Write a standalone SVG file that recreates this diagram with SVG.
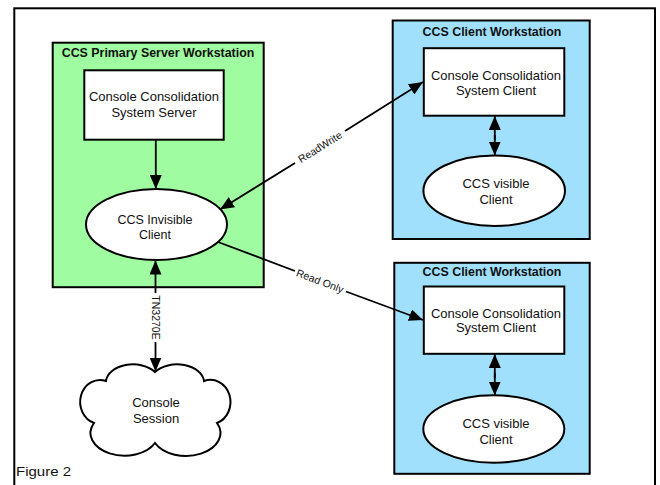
<svg xmlns="http://www.w3.org/2000/svg" width="660" height="485" viewBox="0 0 660 485">
<defs>
<style>
text{font-family:"Liberation Sans",Arial,sans-serif;fill:#111}
.t{font-size:12.4px;font-weight:bold;text-anchor:middle}
.b{font-size:13px;text-anchor:middle}
.s{font-size:12.5px}
.l{font-size:10.5px;text-anchor:middle}
.shape{stroke:#000;stroke-width:2}
.conn{stroke:#000;stroke-width:1.8;fill:none}
.arr{marker-end:url(#ah)}
</style>
<marker id="ah" markerUnits="userSpaceOnUse" markerWidth="14" markerHeight="12" refX="14" refY="6" orient="auto">
<path d="M0,0 L14,6 L0,12 Z" fill="#000"/>
</marker>
</defs>
<rect id="frame" x="14.3" y="8.3" width="640.7" height="490" fill="#fff" stroke="#000" stroke-width="2"/>

<g id="server-ws">
<rect class="shape" x="52.7" y="42.7" width="211" height="244.5" fill="#a0fca0"/>
<text class="t" x="158" y="57">CCS Primary Server Workstation</text>
</g>
<g id="ccs-server">
<rect class="shape" x="84.3" y="70.3" width="139.4" height="69.4" fill="#fff"/>
<text class="b" x="154" y="101">Console Consolidation</text>
<text class="b" x="154" y="117">System Server</text>
</g>
<g id="invisible-client">
<ellipse class="shape" cx="156.5" cy="224.5" rx="70.5" ry="35.5" fill="#fff"/>
<text class="b s" x="155" y="223.5">CCS Invisible</text>
<text class="b s" x="155" y="238.5">Client</text>
</g>

<g id="client-ws-1">
<rect class="shape" x="392.7" y="20.5" width="197" height="218.5" fill="#a0e0fc"/>
<text class="t" x="492" y="36">CCS Client Workstation</text>
</g>
<g id="ccs-client-1">
<rect class="shape" x="423.8" y="48.2" width="140.5" height="67.5" fill="#fff"/>
<text class="b" x="496" y="80">Console Consolidation</text>
<text class="b" x="496" y="95">System Client</text>
</g>
<g id="visible-client-1">
<ellipse class="shape" cx="494.2" cy="190.7" rx="70.8" ry="35.3" fill="#fff"/>
<text class="b" x="496" y="188">CCS visible</text>
<text class="b" x="496" y="204">Client</text>
</g>

<g id="client-ws-2">
<rect class="shape" x="394.3" y="262.8" width="195.4" height="211" fill="#a0e0fc"/>
<text class="t" x="492" y="276">CCS Client Workstation</text>
</g>
<g id="ccs-client-2">
<rect class="shape" x="423.8" y="286.5" width="140.5" height="67.3" fill="#fff"/>
<text class="b" x="496" y="318">Console Consolidation</text>
<text class="b" x="496" y="332">System Client</text>
</g>
<g id="visible-client-2">
<ellipse class="shape" cx="493.8" cy="429" rx="70.5" ry="33.7" fill="#fff"/>
<text class="b" x="496" y="428">CCS visible</text>
<text class="b" x="496" y="444">Client</text>
</g>

<g id="console-session">
<path class="shape" fill="#fff" d="M155,372 A27,18 0 0 1 204,381 A18,20 0 0 1 217,423 A30,20 0 0 1 155,443 A30,20 0 0 1 94,423 A18,20 0 0 1 106,381 A27,18 0 0 1 155,372 Z"/>
<text class="b" x="156" y="407">Console</text>
<text class="b" x="156" y="423">Session</text>
</g>

<g id="connectors">
<path class="conn arr" d="M155.8,140 L155.8,189"/>
<path class="conn arr" d="M494.8,140 L494.8,116"/>
<path class="conn arr" d="M494.8,135 L494.8,155.5"/>
<path class="conn arr" d="M494.8,378 L494.8,354"/>
<path class="conn arr" d="M494.8,373 L494.8,395.5"/>
<path class="conn arr" d="M155.5,293 L155.5,260.5"/>
<path class="conn arr" d="M155.5,342 L155.5,371.5"/>
<text class="l" transform="translate(155.5,317.5) rotate(90)" dy="3.7">TN3270E</text>
<path class="conn arr" d="M295,163 L220,209.5"/>
<path class="conn arr" d="M345,131 L423,82"/>
<text class="l" transform="translate(320,147) rotate(-32.2)" dy="3.7">ReadWrite</text>
<path class="conn" d="M218,242 L295,271"/>
<path class="conn arr" d="M346,291.5 L423,320"/>
<text class="l" transform="translate(320,281) rotate(20.8)" dy="3.7">Read Only</text>
</g>
<text x="16" y="476" style="font-size:13px" textLength="55" lengthAdjust="spacingAndGlyphs">Figure 2</text>
</svg>
